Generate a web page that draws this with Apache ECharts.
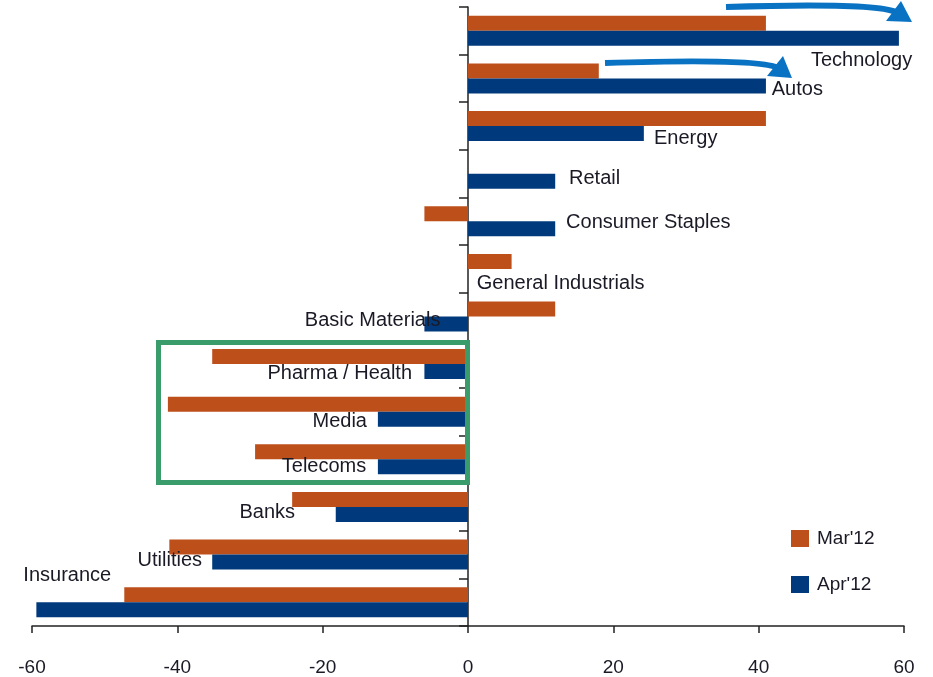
<!DOCTYPE html>
<html>
<head>
<meta charset="utf-8">
<title>Sector changes</title>
<script src="https://cdn.jsdelivr.net/npm/echarts@6/dist/echarts.min.js"></script>
<style>
  html, body { margin: 0; padding: 0; background: #fff; }
  #chart { width: 933px; height: 677px; }
</style>
</head>
<body>
<div id="chart"></div>
<script>
// 数据
const sectors = ['Technology', 'Autos', 'Energy', 'Retail', 'Consumer Staples', 'General Industrials',
  'Basic Materials', 'Pharma / Health', 'Media', 'Telecoms', 'Banks', 'Utilities', 'Insurance']
const mar12 = [41, 18, 41, 0, -6, 6, 12, -35.2, -41.3, -29.3, -24.2, -41.1, -47.3]
const apr12 = [59.3, 41, 24.2, 12, 12, 0, -6, -6, -12.4, -12.4, -18.2, -35.2, -59.4]
const xTicks = [-60, -40, -20, 0, 20, 40, 60]

// 标签位置 (x 为数值坐标, dy 为像素偏移)
const labelLayout = [
  { x: 47.2, align: 'left', dy: 30 },
  { x: 41.8, align: 'left', dy: 11 },
  { x: 25.6, align: 'left', dy: 12 },
  { x: 13.9, align: 'left', dy: 5 },
  { x: 13.5, align: 'left', dy: 1 },
  { x: 1.2, align: 'left', dy: 15 },
  { x: -3.8, align: 'right', dy: 4 },
  { x: -7.7, align: 'right', dy: 9 },
  { x: -13.9, align: 'right', dy: 10 },
  { x: -14, align: 'right', dy: 7 },
  { x: -23.8, align: 'right', dy: 6 },
  { x: -36.6, align: 'right', dy: 6 },
  { x: -49.1, align: 'right', dy: -27 }
]

const FONT = "'Liberation Sans', Arial, sans-serif"
const TEXT = '#1a1a26'
const ORANGE = '#bd4f1b'
const BLUE = '#003a7d'
const ARROW = '#0a72c2'

const myChart = echarts.init(document.getElementById('chart'))

const option = {
  animation: false,
  textStyle: { fontFamily: FONT },
  legend: {
    orient: 'vertical',
    left: 791,
    top: 529,
    padding: 0,
    itemWidth: 18,
    itemHeight: 17,
    itemGap: 27,
    icon: 'rect',
    textStyle: { fontSize: 19, color: TEXT, fontFamily: FONT, padding: [0, 0, 0, 3] },
    data: ["Mar'12", "Apr'12"]
  },
  grid: { left: 32, right: 29, top: 7, bottom: 50 },
  xAxis: {
    type: 'value',
    min: xTicks[0],
    max: xTicks[xTicks.length - 1],
    interval: 20,
    splitLine: { show: false },
    axisLine: { show: true, onZero: false, lineStyle: { color: '#222', width: 1.5 } },
    axisTick: { show: true, length: 7, lineStyle: { color: '#222', width: 1.5 } },
    axisLabel: { fontSize: 19, color: TEXT, margin: 32, fontFamily: FONT }
  },
  yAxis: {
    type: 'category',
    inverse: true,
    data: sectors,
    axisLine: { show: true, onZero: true, lineStyle: { color: '#222', width: 1.5 } },
    axisTick: { show: true, length: 9, lineStyle: { color: '#222', width: 1.5 } },
    axisLabel: { show: false },
    splitLine: { show: false }
  },
  series: [
    {
      name: "Mar'12",
      type: 'bar',
      data: mar12,
      barWidth: 15,
      barGap: '0%',
      itemStyle: { color: ORANGE }
    },
    {
      name: "Apr'12",
      type: 'bar',
      data: apr12,
      barWidth: 15,
      barGap: '0%',
      itemStyle: { color: BLUE }
    },
    {
      // 行业名称标注
      name: 'labels',
      type: 'scatter',
      symbolSize: 0,
      silent: true,
      z: 5,
      itemStyle: { opacity: 1 },
      data: sectors.map((name, i) => ({
        name: name,
        value: [labelLayout[i].x, name],
        label: {
          show: true,
          position: labelLayout[i].align === 'left' ? 'right' : 'left',
          distance: 0,
          align: labelLayout[i].align,
          verticalAlign: 'middle',
          offset: [0, labelLayout[i].dy],
          formatter: name,
          fontSize: 20,
          color: TEXT,
          opacity: 1,
          fontFamily: FONT
        }
      }))
    }
  ],
  graphic: [
    {
      // 绿色框
      type: 'rect',
      z: 100,
      shape: { x: 158.5, y: 342.5, width: 309, height: 140 },
      style: { fill: 'none', stroke: '#3a9b6b', lineWidth: 5 }
    },
    {
      type: 'bezierCurve',
      z: 100,
      shape: { x1: 726, y1: 7, cpx1: 820, cpy1: 4, cpx2: 885, cpy2: 5, x2: 898, y2: 13 },
      style: { fill: 'none', stroke: ARROW, lineWidth: 6 }
    },
    {
      type: 'polygon',
      z: 100,
      shape: { points: [[901, 1], [886, 21], [912, 22]] },
      style: { fill: ARROW }
    },
    {
      type: 'bezierCurve',
      z: 100,
      shape: { x1: 605, y1: 63, cpx1: 700, cpy1: 60, cpx2: 765, cpy2: 61, x2: 778, y2: 68 },
      style: { fill: 'none', stroke: ARROW, lineWidth: 6 }
    },
    {
      type: 'polygon',
      z: 100,
      shape: { points: [[783, 56], [767, 76], [792, 78]] },
      style: { fill: ARROW }
    }
  ]
}

myChart.setOption(option)
</script>
</body>
</html>
